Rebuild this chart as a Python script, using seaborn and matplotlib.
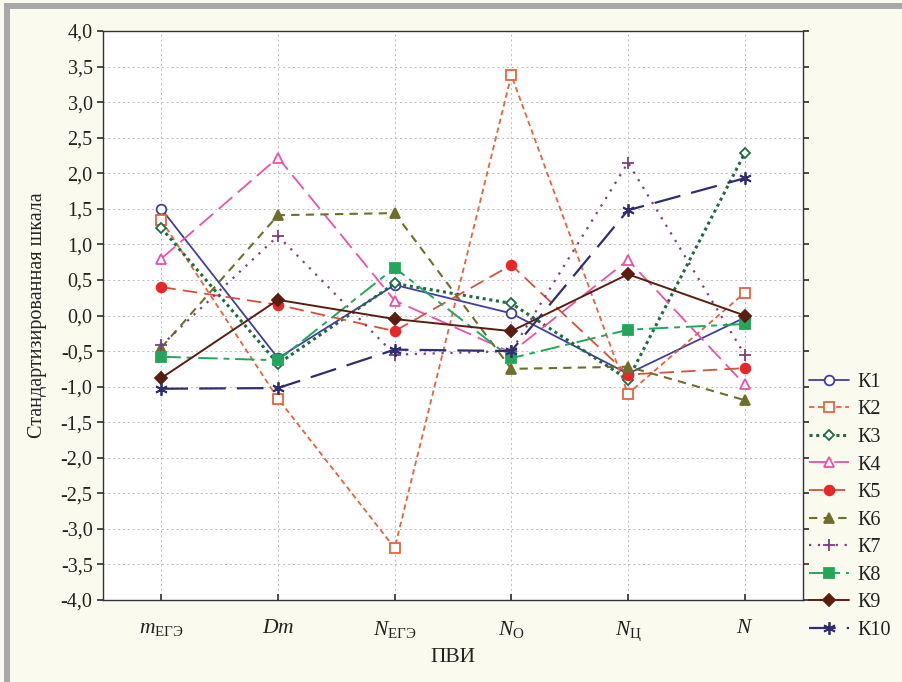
import matplotlib
matplotlib.use("Agg")
import matplotlib.pyplot as plt
import seaborn as sns
import pandas as pd
import numpy as np
from matplotlib.patches import Rectangle
from matplotlib.ticker import FuncFormatter, MultipleLocator

categories = [r"$m_{\mathrm{ЕГЭ}}$", r"$Dm$", r"$N_{\mathrm{ЕГЭ}}$", r"$N_{\mathrm{О}}$", r"$N_{\mathrm{Ц}}$", r"$N$"]
series_names = ["К1", "К2", "К3", "К4", "К5", "К6", "К7", "К8", "К9", "К10"]
K1 = [1.50, -0.60, 0.43, 0.03, -0.82, -0.03]
K2 = [1.34, -1.17, -3.27, 3.38, -1.10, 0.32]
K3 = [1.23, -0.68, 0.45, 0.17, -0.90, 2.28]
K4 = [0.80, 2.22, 0.21, -0.52, 0.78, -0.97]
K5 = [0.40, 0.15, -0.22, 0.71, -0.83, -0.74]
K6 = [-0.45, 1.41, 1.44, -0.75, -0.72, -1.19]
K7 = [-0.42, 1.12, -0.55, -0.50, 2.15, -0.55]
K8 = [-0.58, -0.63, 0.67, -0.60, -0.20, -0.12]
K9 = [-0.88, 0.22, -0.05, -0.22, 0.58, 0.00]
K10 = [-1.03, -1.02, -0.48, -0.50, 1.48, 1.93]
values = [K1, K2, K3, K4, K5, K6, K7, K8, K9, K10]

colors = ['#3F3F9F', '#E8623A', '#1F6B3F', '#EE4FA8', '#D8503A',
          '#6F6F2A', '#7F3F7F', '#22A75A', '#5A1E10', '#2F2F6F']
mfc = ['white', 'white', 'white', 'white', '#E82828',
       '#6F6F2A', '#7F3F7F', '#22A75A', '#5A1E10', '#2F2F6F']
markers = ['o', 's', 'D', '^', 'o', '^', '+', 's', 'D', (6, 2, 0)]
msizes = [7, 7, 5.5, 7, 7, 7, 9, 7, 6, 9]
styles = [(None), (3, 2), (1, 1.2), (10, 4), (8, 4), (4, 3), (1, 3), (10, 3, 3, 3), None, (12, 5)]
lws = [1.3, 1.3, 2.2, 1.3, 1.3, 1.5, 1.6, 1.4, 1.4, 1.6]

sns.set_theme(style="white")
plt.rcParams['font.family'] = ['Liberation Serif', 'DejaVu Serif']
plt.rcParams['mathtext.fontset'] = 'custom'
plt.rcParams['mathtext.rm'] = 'Liberation Serif'
plt.rcParams['mathtext.it'] = 'Liberation Serif:italic'

bg = '#FBFAEF'
fig = plt.figure(figsize=(9.02, 6.82), dpi=100, facecolor=bg)
ax = fig.add_axes([103/902, 1-600/682, 700/902, 569/682])
ax.set_facecolor('white')

# window frame
fig.patches.append(Rectangle((4/902, 0), 6/902, 1 - 3/682, transform=fig.transFigure,
                             facecolor='#A8A8A8', edgecolor='none', zorder=0))
fig.patches.append(Rectangle((4/902, 1 - 9/682), 1 - 4/902, 6/682, transform=fig.transFigure,
                             facecolor='#A8A8A8', edgecolor='none', zorder=0))

x = np.arange(len(categories))
for i, name in enumerate(series_names):
    df = pd.DataFrame({"x": x, "y": values[i]})
    ls = '-' if styles[i] is None else (0, styles[i])
    sns.lineplot(data=df, x="x", y="y", ax=ax, sort=False, estimator=None,
                 color=colors[i], linestyle=ls, linewidth=lws[i],
                 marker=markers[i], markersize=msizes[i],
                 markerfacecolor=mfc[i], markeredgecolor=mfc[i] if mfc[i] != 'white' else colors[i],
                 markeredgewidth=1.3, label=name, zorder=3)

ax.set_xlim(-0.5, 5.5)
ax.set_ylim(-4, 4)
ax.set_xticks(x)
ax.set_xticklabels(categories, fontsize=15.5)
ax.yaxis.set_major_locator(MultipleLocator(0.5))
ax.yaxis.set_major_formatter(FuncFormatter(lambda v, p: f"{v:.1f}".replace('.', ',').replace('-0,0', '0,0')))
ax.tick_params(axis='y', labelsize=14.5, direction='out', length=4, colors='#333333', labelcolor='#222222', left=True)
ax.tick_params(axis='x', direction='in', length=4, pad=14, bottom=True, colors='#333333', labelcolor='#222222')
ax.tick_params(axis='y', which='both', right=True)
ax.grid(True, color='#BBBBBB', linestyle=(0, (2, 3)), linewidth=0.7)
for s in ax.spines.values():
    s.set_color('#333333')
    s.set_linewidth(1.0)

ax.set_xlabel("ПВИ", fontsize=15.5, color='#222222', labelpad=4)
ax.set_ylabel("Стандартизированная шкала", fontsize=14.5, color='#222222', labelpad=10)

leg = ax.legend(loc='upper left', bbox_to_anchor=(1.0, 0.41), frameon=False, fontsize=14.5,
                handlelength=2.0, labelspacing=0.42, handletextpad=0.4, borderaxespad=0.0,
                borderpad=0.3)
for t in leg.get_texts():
    t.set_color('#222222')

fig.savefig("out.png", dpi=100, facecolor=bg)
